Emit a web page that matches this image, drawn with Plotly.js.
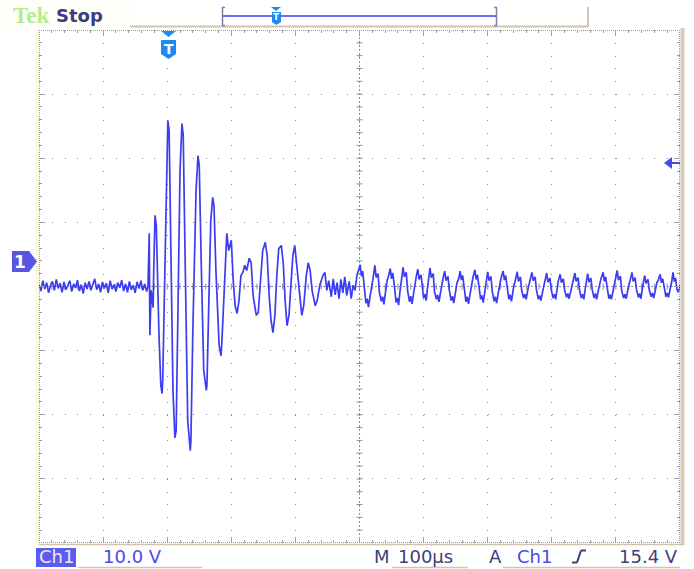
<!DOCTYPE html>
<html><head><meta charset="utf-8">
<script src="https://cdn.plot.ly/plotly-3.0.1.min.js"></script>
<style>html,body{margin:0;padding:0;background:#fff;}#chart{width:694px;height:569px;}</style>
</head><body><div id="chart"></div>
<script>
// ---- Data (time in µs from left edge of screen, voltage in V; 100 µs/div, 10 V/div) ----
const baseT = [0,3,6,9,12,15,18,21,24,27,30,33,36,39,42,45,48,51,54,57,60,63,66,69,72,75,78,81,84,87,90,93,96,99,102,105,108,111,114,117,120,123,126,129,132,135,138,141,144,147,150,153,156,159,162,165,168];
const baseV = [0.3,-0.7,0.9,-0.4,0.6,-1.0,0.2,0.8,-0.6,1.1,-0.3,0.5,-0.9,0.7,-0.5,0.1,0.9,-0.8,0.4,-0.2,1.0,-0.7,0.3,-1.1,0.6,-0.4,0.8,-0.6,0.2,1.2,-0.5,0.4,-0.9,0.7,-0.3,0.5,-1.0,0.9,-0.4,0.3,-0.8,0.6,-0.2,1.0,-0.7,0.4,-0.9,0.8,-0.5,0.2,-1.0,0.7,-0.3,0.9,-0.6,0.4,-0.8];

const burstT = [170,172,173,175,176,178,179,181,183,184,187,190,192,193,197,200,201,203,206,209,212,214,217,220,223,225,228,232,236,237,240,245,248,250,253,257,261,262,265,268,271,273,276,281,284,285,289,292,293,296,300,303,306,309,312,315,318,321,324,328,331,334,339,342,345,349,353,356,359,362,365,368,371,374,378,381,384,387,390,393,396,399,402,406,410,413,417,420,423,426,431,434,438,443,446,449,452,456,459,462,465,468,471,474,477,480,484,487,490,493,496];
const burstV = [0,8.3,-7.6,-0.6,-1.4,-3.3,2.5,11.1,9.5,4.1,-6.9,-15.4,-16.7,-14.7,5.6,22.8,25.9,24.3,5.6,-16.2,-23.6,-22.5,-2.2,18.1,25.4,23.6,4.1,-20.9,-25.6,-24.0,-6.9,15.0,20.4,18.9,4.1,-13.1,-16.2,-15.4,-2.2,10.3,13.9,12.6,2.5,-9.2,-10.8,-9.2,-0.6,6.4,8.3,5.6,7.2,0.9,-3.0,-4.2,-2.2,1.7,2.2,3.3,2.5,4.4,3.7,-1.4,-4.5,-4.1,0.2,5.6,6.9,4.8,-1.4,-5.3,-7.2,-4.5,1.7,5.9,6.4,3.7,-2.2,-6.1,-4.5,0.9,4.8,6.4,3.7,-0.6,-4.5,-3.0,1.7,3.7,2.5,-0.6,-3.0,-2.2,0.2,1.7,2.2,-0.6,0.9,-1.6,1.2,-1.3,0.6,-1.9,1.1,-1.0,1.5,-1.4,0.8,-1.9,0.2,-0.6,1.7];

const tailT = [501,503,505,508,510,512,514,517,519,521,524,526,529,531,534,536,538,541,543,545,548,550,552,555,557,559,561,563,565,568,570,573,575,578,580,582,585,587,589,591,593,596,598,600,602,604,606,608,610,612,615,617,620,622,624,627,629,631,633,635,638,640,643,645,647,650,652,655,657,659,661,664,666,668,670,673,675,677,680,682,684,687,689,691,693,696,698,700,702,705,707,710,712,714,717,719,721,724,726,728,731,733,735,737,740,742,744,746,748,751,753,756,758,760,763,765,767,769,771,774,776,779,781,783,786,788,790,792,794,797,799,802,804,806,808,810,813,815,818,820,823,825,827,830,832,834,836,838,841,843,846,848,850,852,854,856,858,861,863,866,868,870,873,875,877,880,882,884,887,889,891,893,896,898,900,902,904,907,909,912,914,916,919,921,923,925,927,930,932,935,937,939,941,943,945,947,950,952,955,957,959,962,964,966,969,971,973,976,978,980,982,985,987,989,991,993,995,997,999,1000];
const tailV = [3.4,1.6,2.4,-0.8,-2.6,-1.9,-3.2,-1.2,0.4,1.2,3.3,1.4,2.0,-0.9,-2.3,-1.6,-2.8,-0.5,0.9,1.5,2.8,1.2,2.1,-0.4,-2.5,-1.8,-2.9,-0.9,0.6,3.0,1.5,2.2,-0.6,-2.4,-1.5,-2.7,-0.7,1.0,1.8,2.7,1.1,1.8,-0.5,-1.8,-1.2,-2.2,-0.3,1.1,2.9,1.4,2.0,-0.8,-2.0,-1.3,-2.4,-0.6,0.8,1.6,2.4,0.9,1.6,-0.5,-2.2,-1.5,-2.6,-0.8,0.5,1.3,2.4,1.0,1.7,-0.7,-2.4,-1.6,-2.7,-0.9,0.6,1.4,2.6,1.1,1.8,-0.6,-2.0,-1.4,-2.5,-0.5,0.8,2.3,0.9,1.6,-0.7,-2.3,-1.6,-2.6,-0.7,0.6,1.4,2.4,1.0,1.7,-0.4,-2.0,-1.3,-2.3,-0.4,0.7,1.5,2.3,0.8,1.5,-0.6,-1.8,-1.2,-2.0,-0.3,0.7,1.3,2.2,0.9,1.5,-0.5,-2.0,-1.4,-2.2,-0.6,0.6,1.2,2.1,0.7,1.3,-0.4,-1.8,-1.2,-2.0,-0.3,0.8,1.9,0.6,1.2,-0.6,-1.7,-1.1,-1.9,-0.4,0.6,1.1,2.1,0.8,1.4,-0.4,-1.8,-1.2,-2.0,-0.5,0.7,2.0,0.7,1.3,-0.5,-1.8,-1.1,-2.0,-0.4,0.7,1.3,2.2,0.8,1.5,-0.4,-1.9,-1.3,-2.0,-0.5,0.6,1.2,2.5,1.0,1.6,-0.6,-1.8,-1.2,-1.9,-0.3,0.8,1.3,2.2,0.8,1.4,-0.4,-1.7,-1.1,-1.9,-0.4,0.7,1.7,0.5,1.1,-0.5,-1.6,-1.0,-1.8,-0.3,0.6,1.0,1.9,0.6,1.2,-0.4,-1.6,-1.0,-1.7,-0.2,0.7,2.2,0.8,1.3,-0.3,-0.9,-0.4,0.2];

const channelLabel = "Ch1", voltsPerDiv = "10.0 V", timePerDiv = "100µs", trigLevel = "15.4 V";

// ---- Layout helpers (pixel -> paper) ----
const L = 39, R = 680, T = 30, B = 543;
const PX = p => (p - L) / (R - L);
const PY = p => (B - p) / (B - T);
const gridCol = '#8c8cb0', navy = '#3e3e7c', blue = '#4848ee', tan = '#d2c4ae', tBlue = '#1c8af2';

const shapes = [];
const pline = (x0,y0,x1,y1,color,width,dash) => shapes.push({type:'line',xref:'paper',yref:'paper',x0:PX(x0),y0:PY(y0),x1:PX(x1),y1:PY(y1),line:{color:color,width:width,dash:dash||'solid'},layer:'above'});
const ppath = (pts,fill) => shapes.push({type:'path',xref:'paper',yref:'paper',path:'M'+pts.map(p=>PX(p[0])+','+PY(p[1])).join(' L')+' Z',fillcolor:fill,line:{width:0},layer:'above'});
const prect = (x0,y0,x1,y1,fill,layer) => shapes.push({type:'rect',xref:'paper',yref:'paper',x0:PX(x0),y0:PY(y0),x1:PX(x1),y1:PY(y1),fillcolor:fill,line:{width:0},layer:layer||'below'});

// header box & frame decorations
prect(0,0,130,27,'#fffffa');
pline(130,26.5,588,26.5,tan,2);
pline(588,7,588,26.5,tan,2);
prect(35,30,39,545,'#fffbe0');
prect(680.5,28,684.5,545,'#d8ccb8','above');
pline(39,544.5,684,544.5,'#cfc2ae',1.5);
// frame borders (dotted)
pline(39,30.5,680,30.5,'#9a9ab8',1,'1px,1px');
pline(39,542.5,680,542.5,'#9a9ab8',1,'1px,1px');
pline(39.5,30,39.5,543,'#9a9ab8',1,'1px,1px');
pline(679.5,30,679.5,543,'#9a9ab8',1,'1px,1px');
// center crosshair
shapes.push({type:'line',xref:'x',yref:'y',x0:0,x1:1000,y0:0,y1:0,line:{color:gridCol,width:1,dash:'2px,2px'},layer:'below'});
shapes.push({type:'line',xref:'x',yref:'y',x0:500,x1:500,y0:-40,y1:40,line:{color:gridCol,width:1,dash:'2px,2px'},layer:'below'});
for (let t = 20; t < 1000; t += 20) shapes.push({type:'line',xref:'x',yref:'y',ysizemode:'pixel',yanchor:0,x0:t,x1:t,y0:-3,y1:3,line:{color:gridCol,width:1},layer:'below'});
for (let v = -38; v < 40; v += 2) shapes.push({type:'line',xref:'x',yref:'y',xsizemode:'pixel',xanchor:500,y0:v,y1:v,x0:-3,x1:3,line:{color:gridCol,width:1},layer:'below'});

// top bar: bracket, record line, small T
pline(222.5,7,222.5,26,'#8080a4',1.5); pline(222,7.5,225,7.5,'#8080a4',1.5); pline(222,25.5,225,25.5,'#8080a4',1.5);
pline(496.5,7,496.5,26,'#8080a4',1.5); pline(494,7.5,497,7.5,'#8080a4',1.5); pline(494,25.5,497,25.5,'#8080a4',1.5);
pline(223,16,496,16,'#6a6af2',2);
ppath([[271,7],[281,7],[276,11]],tBlue);
ppath([[272,12],[281,12],[281,22],[276.5,25],[272,22]],tBlue);
// trigger position marker
ppath([[161,31],[176,31],[168.5,37]],tBlue);
ppath([[161,40],[176,40],[176,54],[168.5,59],[161,54]],tBlue);
// channel 1 ground marker
ppath([[12,251],[29,251],[37,261.5],[29,272],[12,272]],'#5656e0');
// trigger level arrow
ppath([[664,163],[672,157],[672,169]],blue);
pline(671,163,680,163,blue,2);
// bottom bar
prect(36,548,76,567,'#5a5af5','above');
pline(78,567.5,202,567.5,tan,1.5);
pline(392,567.5,468,567.5,tan,1.5);
pline(503,567.5,680,567.5,tan,1.5);
pline(572,562.5,577,562.5,navy,2); pline(577,562.5,581,550.5,navy,2); pline(581,550.5,586,550.5,navy,2);

const ann = (text,x,y,color,size,family,anchor,bold) => ({text: bold ? '<b>'+text+'</b>' : text, xref:'paper', yref:'paper', x:PX(x), y:PY(y), xanchor:anchor||'left', yanchor:'middle', showarrow:false, font:{color:color,size:size,family:family||'DejaVu Sans'}});
const annotations = [
  ann('Tek',11,16,'#b2ee8c',23,'Liberation Serif','left',true),
  ann('Stop',54,16,'#3c3c80',18,'DejaVu Sans','left',true),
  ann('T',276.5,17.5,'#ffffff',9,'DejaVu Sans','center',true),
  ann('T',168.5,48.5,'#ffffff',14,'DejaVu Sans','center',true),
  ann('1',20,262,'#ffffff',17,'DejaVu Sans','center',true),
  ann(channelLabel,56,557,'#f4e8dc',18,'DejaVu Sans','center'),
  ann(voltsPerDiv,101,556,blue,18),
  ann('M',372,556,navy,18),
  ann(timePerDiv,396,556,navy,18),
  ann('A',487,556,navy,18),
  ann(channelLabel,515,556,blue,18),
  ann(trigLevel,680,556,navy,18,'DejaVu Sans','right')
];

const trace = {
  x: baseT.concat(burstT, tailT),
  y: baseV.concat(burstV, tailV),
  type: 'scatter', mode: 'lines', hoverinfo: 'skip',
  line: {color: '#3c3cf2', width: 1.7}
};

const axisCommon = {showticklabels:false, zeroline:false, showline:false, fixedrange:true,
  showgrid:true, gridcolor:gridCol, gridwidth:1, griddash:'1px,11.82px',
  ticks:'inside', ticklen:6, tickcolor:'#9a9ab8', tickwidth:1, mirror:'ticks'};

const layout = {
  width: 694, height: 569,
  margin: {l: L, r: 694 - R, t: T, b: 569 - B, pad: 0},
  paper_bgcolor: '#ffffff', plot_bgcolor: '#ffffff',
  showlegend: false,
  xaxis: Object.assign({}, axisCommon, {range:[0,1000], dtick:100, tick0:0,
    minor:{dtick:20, ticks:'inside', ticklen:3, tickcolor:'#9a9ab8', showgrid:false}}),
  yaxis: Object.assign({}, axisCommon, {range:[-40,40], dtick:10, tick0:0,
    minor:{dtick:2, ticks:'inside', ticklen:3, tickcolor:'#9a9ab8', showgrid:false}}),
  shapes: shapes,
  annotations: annotations
};

Plotly.newPlot('chart', [trace], layout, {staticPlot: true, displayModeBar: false});
</script>
</body></html>
